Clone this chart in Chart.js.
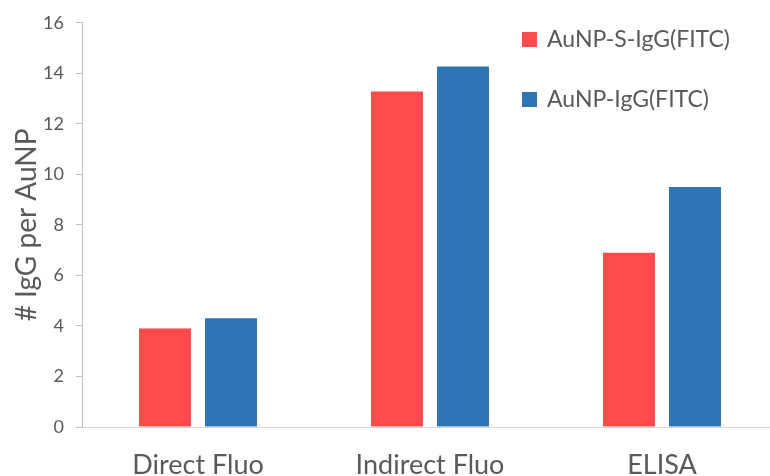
<!DOCTYPE html>
<html>
<head>
<meta charset="utf-8">
<script src="https://cdn.jsdelivr.net/npm/chart.js@4.4.1/dist/chart.umd.min.js"></script>
<style>
  html, body { margin: 0; padding: 0; background: #fff; overflow: hidden; width: 770px; height: 476px; }
  #wrap { position: relative; width: 790px; height: 490px; }
  #c { position: absolute; left: 0; top: 0; }
  .lg { position: absolute; font-family: Lato, sans-serif; font-size: 23px; color: #595959; white-space: nowrap; line-height: 1; }
  .lg span.sw { position: absolute; width: 15px; height: 15px; left: 0; }
  .lg span.tx { position: absolute; left: 25px; }
</style>
</head>
<body>
<div id="wrap">
  <canvas id="c" width="790" height="490"></canvas>
  <div id="legend"></div>
</div>
<script>
const categories = ["Direct Fluo", "Indirect Fluo", "ELISA"];
const seriesNames = ["AuNP-S-IgG(FITC)", "AuNP-IgG(FITC)"];
const seriesS = [3.9, 13.28, 6.9];
const seriesP = [4.3, 14.27, 9.5];
const seriesColors = ["#FF4B4B", "#2E75B6"];
const yTicks = [0, 2, 4, 6, 8, 10, 12, 14, 16];
const yTitle = "# IgG per AuNP";

const textColor = "#595959";
const axisColor = "#BFBFBF";

const chart = new Chart(document.getElementById('c'), {
  type: 'bar',
  data: {
    labels: categories,
    datasets: [
      { label: seriesNames[0], data: seriesS, backgroundColor: seriesColors[0], barPercentage: 0.788, categoryPercentage: 0.569 },
      { label: seriesNames[1], data: seriesP, backgroundColor: seriesColors[1], barPercentage: 0.788, categoryPercentage: 0.569 }
    ]
  },
  options: {
    responsive: false,
    animation: false,
    devicePixelRatio: 1,
    layout: { padding: { left: 0, right: 12, top: 21, bottom: 0 } },
    plugins: { legend: { display: false }, tooltip: { enabled: false } },
    scales: {
      x: {
        grid: { display: false },
        border: { display: true, color: '#D9D9D9', width: 1 },
        ticks: { color: textColor, font: { family: 'Lato', size: 27 }, padding: 14, maxRotation: 0 },
        afterFit(s) { s.height = 63; }
      },
      y: {
        min: 0, max: 16,
        afterBuildTicks(s) { s.ticks = yTicks.map(v => ({ value: v })); },
        grid: { drawOnChartArea: false, drawTicks: true, tickLength: 6, color: axisColor },
        border: { display: true, color: axisColor, width: 1 },
        ticks: { color: textColor, font: { family: 'Lato', size: 18 }, padding: 12 },
        title: { display: true, text: yTitle, color: textColor, font: { family: 'Lato', size: 28 }, padding: { top: 10, bottom: 0 } },
        afterFit(s) { s.width = 82; }
      }
    }
  }
});

// HTML legend built from the series arrays
const legendTops = [32, 92];
const lg = document.getElementById('legend');
seriesNames.forEach((name, i) => {
  const d = document.createElement('div');
  d.className = 'lg';
  d.style.left = '522px';
  d.style.top = legendTops[i] + 'px';
  d.innerHTML = '<span class="sw" style="background:' + seriesColors[i] + '"></span><span class="tx" style="top:-5px">' + name + '</span>';
  lg.appendChild(d);
});
</script>
</body>
</html>
